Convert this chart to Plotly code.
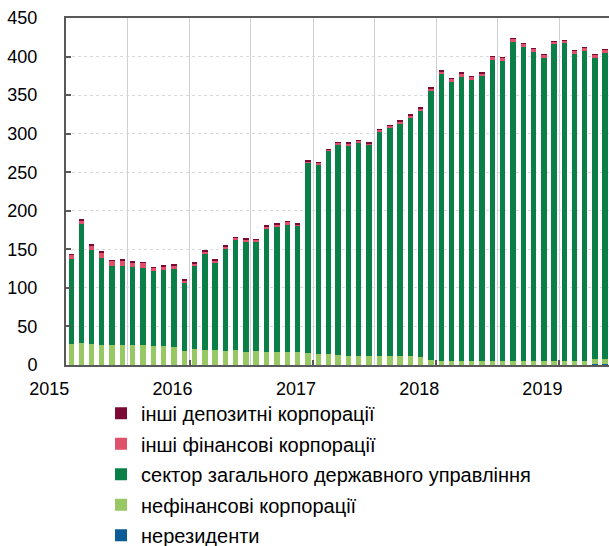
import plotly.graph_objects as go
import pandas as pd

months = [d.strftime("%Y-%m-%d") for d in pd.date_range("2015-01-01", "2019-05-01", freq="MS")]

nonresidents = [0]*51 + [1.0, 1.0]
nonfinancial = [27.6, 28.5, 27.1, 26.3, 26.3, 26.3, 25.8, 25.8, 25.0, 25.0, 23.7, 17.7,
                20.2, 19.8, 18.9, 18.5, 18.9, 17.2, 17.6, 17.2, 16.8, 16.8, 16.8, 15.0,
                14.6, 14.0, 13.0, 12.0, 12.0, 11.1, 12.0, 12.0, 11.1, 12.0, 10.3, 6.0,
                4.7, 4.7, 4.7, 5.2, 5.2, 5.2, 5.2, 5.6, 5.6, 5.6, 5.6, 5.6, 5.6, 5.6,
                5.6, 6.3, 6.3]
general_gov = [109.6, 154.4, 122.6, 113.0, 102.7, 102.7, 101.5, 100.2, 96.7, 98.8, 101.4, 88.8,
               108.3, 124.6, 113.9, 132.4, 143.3, 142.8, 142.4, 159.6, 162.6, 165.2, 163.5, 247.2,
               245.0, 263.0, 272.5, 273.1, 275.7, 274.0, 290.3, 295.5, 301.6, 308.4, 319.2, 350.3,
               372.3, 362.3, 369.3, 364.6, 370.7, 390.8, 389.5, 413.7, 406.7, 400.8, 393.0, 410.6,
               411.9, 398.2, 402.0, 390.9, 397.8]
other_financial = [6.2, 5.0, 5.4, 7.1, 6.1, 7.0, 5.8, 6.6, 4.4, 4.4, 4.4, 3.6,
                   3.6, 3.2, 2.3, 3.2, 3.1, 2.3, 2.7, 3.2, 2.7, 3.6, 2.3, 2.3,
                   3.2, 2.6, 3.2, 2.0, 3.2, 2.7, 3.2, 3.2, 3.6, 3.7, 2.9, 1.9,
                   3.3, 4.1, 4.4, 4.5, 2.1, 4.0, 4.4, 4.0, 4.1, 4.4, 4.4, 3.2,
                   3.6, 4.3, 4.0, 4.4, 3.9]
other_deposit = [0.3, 1.5, 1.5, 0.3, 0.3, 0.3, 1.5, 0.3, 0.3, 0.3, 0.3, 0.8,
                 0.3, 0.3, 1.2, 0.3, 0.3, 1.2, 0.3, 0.3, 1.2, 0.3, 0.3, 0.3,
                 0.3, 0.3, 0.3, 1.0, 0.3, 1.2, 0.3, 0.3, 0.3, 0.3, 1.0, 2.0,
                 1.0, 0.3, 0.3, 0.3, 2.0, 0.3, 0.3, 0.3, 0.3, 0.3, 0.3, 0.3,
                 0.3, 0.3, 0.3, 0.3, 0.3]

# stacked bottom -> top
series = [
    ("нерезиденти", nonresidents, "#0B5C96"),
    ("нефінансові корпорації", nonfinancial, "#97C864"),
    ("сектор загального державного управління", general_gov, "#0A7F47"),
    ("інші фінансові корпорації", other_financial, "#E0506A"),
    ("інші депозитні корпорації", other_deposit, "#7A0A33"),
]

year_ticks = ["2015-01-01", "2016-01-01", "2017-01-01", "2018-01-01", "2019-01-01"]
year_labels = ["2015", "2016", "2017", "2018", "2019"]
mid_year = ["2015-07-01", "2016-07-01", "2017-07-01", "2018-07-01"]
y_ticks = [0, 50, 100, 150, 200, 250, 300, 350, 400, 450]

fig = go.Figure()
n = len(series)
for i, (name, vals, color) in enumerate(series):
    fig.add_trace(go.Bar(
        x=months, y=vals, name=name, legendgroup=name, legendrank=n - i,
        xperiod="M1", xperiodalignment="middle",
        width=16 * 86400000,
        marker=dict(color=color, line=dict(width=0)),
    ))

font = "Arial, Liberation Sans, sans-serif"
fig.update_layout(
    width=609, height=546,
    margin=dict(l=66, r=0, t=18, b=181, autoexpand=False),
    barmode="stack",
    plot_bgcolor="white", paper_bgcolor="white",
    font=dict(family=font, size=18, color="#000000"),
    showlegend=True,
    legend=dict(
        orientation="v", traceorder="grouped", tracegroupgap=1.5,
        x=0.0645, xanchor="left",
        y=-0.083, yanchor="top",
        font=dict(size=20, color="#000000"),
        bgcolor="rgba(0,0,0,0)",
    ),
    xaxis=dict(
        type="date",
        range=["2014-12-31", "2019-05-28"],
        tickvals=year_ticks, ticktext=year_labels,
        ticks="inside", ticklen=5, tickwidth=2, tickcolor="#595959",
        ticklabelshift=-17, ticklabelstandoff=6,
        showgrid=True, gridcolor="#cdd1d5", gridwidth=1,
        minor=dict(tickvals=mid_year, showgrid=True, gridcolor="#cdd1d5", gridwidth=1, ticks=""),
        showline=True, linecolor="#595959", linewidth=2, mirror=True,
        zeroline=False,
        tickfont=dict(size=18, color="#000000"),
    ),
    yaxis=dict(
        range=[0, 450], tickvals=y_ticks,
        ticks="inside", ticklen=5, tickwidth=2, tickcolor="#595959",
        showgrid=True, gridcolor="#d9d9d9", gridwidth=1, griddash="dot",
        showline=True, linecolor="#595959", linewidth=2,
        zeroline=False,
        ticklabelstandoff=23,
        tickfont=dict(size=18, color="#000000"),
    ),
)

fig.write_html(
    "out.html",
    config={"displayModeBar": False},
    post_script="document.body.style.margin='0px';document.body.style.overflow='hidden';",
)
